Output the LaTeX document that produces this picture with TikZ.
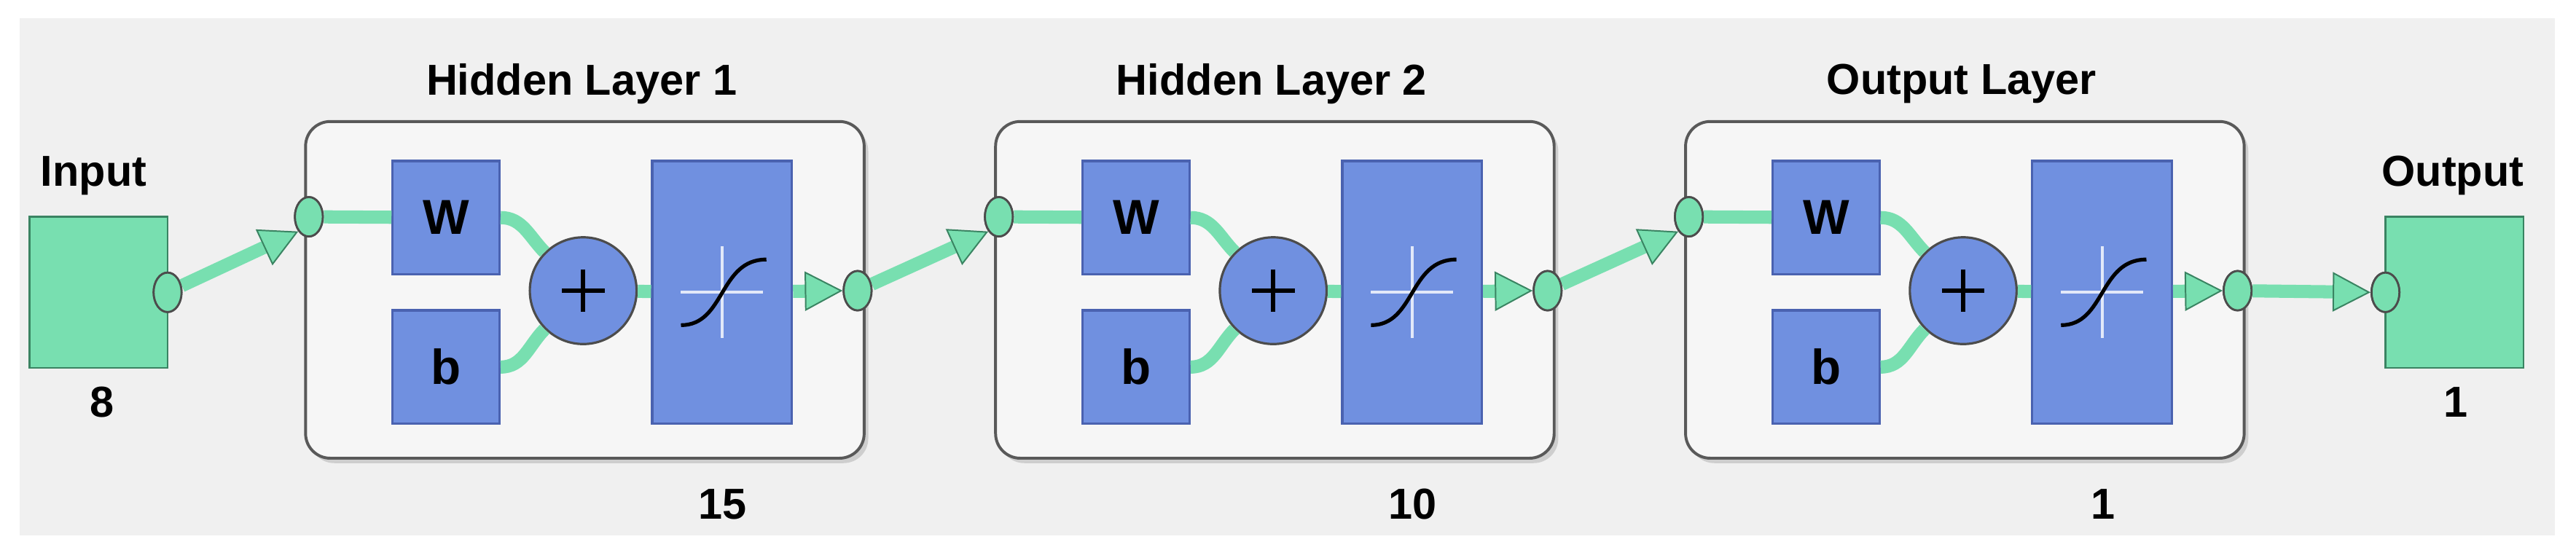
\documentclass[tikz,border=0pt]{standalone}
\usepackage{fontspec}
\setmainfont{Liberation Sans}
\usetikzlibrary{arrows.meta,shapes.geometric,shadows,calc}
\definecolor{mint}{HTML}{78DFB0}
\definecolor{mintedge}{HTML}{3A8462}
\definecolor{netblue}{HTML}{7090E0}
\definecolor{blueedge}{HTML}{4A62B0}
\definecolor{panel}{HTML}{F0F0F0}
\definecolor{layerfill}{HTML}{F6F6F6}
\tikzset{
    lbl/.style={font=\fontsize{15}{17}\selectfont\bfseries},
    io/.style={draw=mintedge, fill=mint, line width=0.6pt, minimum width=16.8mm, minimum height=18.4mm},
    dot/.style={ellipse, draw=black!70, fill=mint, line width=0.7pt, minimum width=3.4mm, minimum height=4.8mm, inner sep=0pt},
    layer/.style={draw=black!65, fill=layerfill, line width=1pt, rounded corners=3mm, minimum width=68mm, minimum height=41mm, drop shadow={opacity=0.3, shadow xshift=0.5mm, shadow yshift=-0.6mm}},
    blk/.style={draw=blueedge, fill=netblue, line width=0.8pt, font=\fontsize{17}{19}\selectfont\bfseries, inner sep=0pt},
    wire/.style={mint, line width=1.6mm},
    tip/.style={-{Triangle[length=4.6mm, width=4.8mm, line width=0.5pt, fill=mint, color=mintedge]}}
}
\begin{document}
\begin{tikzpicture}[x=0.2mm, y=-0.2mm]
    % Panel
    \useasboundingbox (0,0) rectangle (1568,334.5);
    \fill[panel] (12,11) rectangle (1555,326);

    % Input and output boxes
    \node[io] (inbox) at (60,178) {};
    \node[lbl] at (57,107) {Input};
    \node[lbl] at (62,245) {8};
    \node[io] (outbox) at (1494,178) {};
    \node[lbl] at (1493,107) {Output};
    \node[lbl] at (1495,245) {1};
    \node[dot] (inc) at (102,178) {};
    \node[dot] (outc) at (1452,178) {};

    % Layers
    \foreach \i/\dx/\name/\n in {1/0/Hidden Layer 1/15, 2/420/Hidden Layer 2/10, 3/840/Output Layer/1} {
        \node[layer] (lay\i) at (356+\dx,176.5) {};
        \node[lbl] at (354+\dx,51) {\name};
        \node[lbl] at (440+\dx,307) {\n};
        \node[blk, minimum width=13mm, minimum height=13.8mm] (w\i) at (271.5+\dx,132.5) {W};
        \node[blk, minimum width=13mm, minimum height=13.8mm] (b\i) at (271.5+\dx,223.5) {b};
        \node[blk, circle, draw=black!70, minimum size=13mm] (sum\i) at (355+\dx,177) {};
        \draw[line width=1.5pt] ($(sum\i)+(-13,0)$) -- ($(sum\i)+(13,0)$);
        \draw[line width=1.5pt] ($(sum\i)+(0,-13)$) -- ($(sum\i)+(0,13)$);
        \node[blk, minimum width=17mm, minimum height=32mm] (tf\i) at (439.5+\dx,178) {};
        \begin{scope}[shift={(tf\i.center)}]
            \draw[white!80!netblue, line width=1pt] (-25,0) -- (25,0) (0,-28) -- (0,28);
            \draw[line width=1.3pt] (-25,20) .. controls (2,20) and (-2,-20) .. (27,-20);
        \end{scope}
        \node[dot] (in\i) at (188+\dx,132) {};
        \node[dot] (out\i) at (522+\dx,177) {};
        \draw[wire] (in\i) -- (w\i);
        \draw[wire] (w\i.east) to[out=0, in=135] (sum\i.135);
        \draw[wire] (b\i.east) to[out=0, in=-135] (sum\i.-135);
        \draw[wire] (sum\i) -- (tf\i);
        \draw[wire, tip] (tf\i) -- (out\i.west);
    }

    % Connections between layers
    \draw[wire, tip] (inc) -- (in1.south west);
    \draw[wire, tip] (out1) -- (in2.south west);
    \draw[wire, tip] (out2) -- (in3.south west);
    \draw[wire, tip] (out3) -- (outc.west);
    \foreach \c in {inc,in1,out1,in2,out2,in3,out3,outc}
        \node[dot] at (\c) {};
\end{tikzpicture}
\end{document}
